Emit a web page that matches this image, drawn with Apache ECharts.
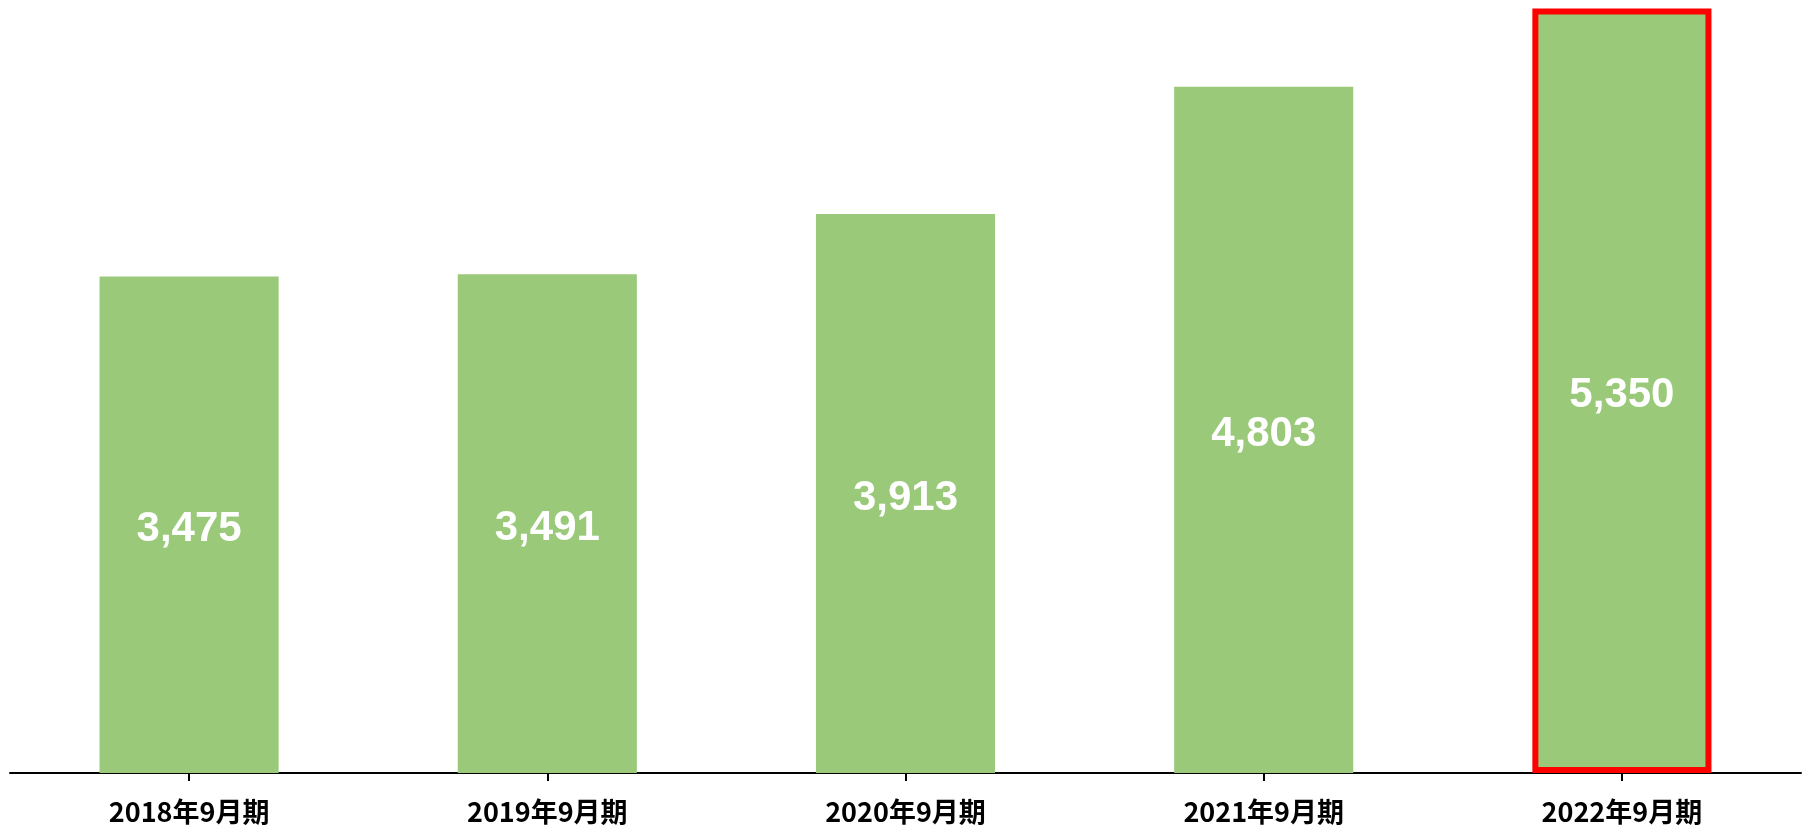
<!DOCTYPE html>
<html>
<head>
<meta charset="utf-8">
<script src="https://cdn.jsdelivr.net/npm/echarts@6/dist/echarts.min.js"></script>
<style>
  html, body { margin: 0; padding: 0; background: #fff; }
  #chart { width: 1806px; height: 826px; }
</style>
</head>
<body>
<div id="chart"></div>
<script>
const categories = ['2018年9月期', '2019年9月期', '2020年9月期', '2021年9月期', '2022年9月期'];
const values = [3475, 3491, 3913, 4803, 5350];
const highlightIndex = 4;

const chart = echarts.init(document.getElementById('chart'));

const barData = values.map(function (v, i) {
  if (i === highlightIndex) {
    return { value: v, itemStyle: { borderColor: '#ff0000', borderWidth: 6 } };
  }
  return v;
});

const option = {
  animation: false,
  grid: { left: 10, right: 5, top: 0, bottom: 53 },
  xAxis: {
    type: 'category',
    data: categories,
    axisLine: { show: true, lineStyle: { color: '#000', width: 2 } },
    axisTick: { show: true, alignWithLabel: true, inside: false, length: 8, lineStyle: { color: '#000', width: 2 } },
    axisLabel: {
      margin: 25,
      color: '#000',
      fontSize: 27,
      fontWeight: 'bold',
      fontFamily: '"Liberation Sans Narrow", "Noto Sans CJK JP", sans-serif'
    }
  },
  yAxis: {
    type: 'value',
    min: 0,
    max: 5410,
    show: false,
    splitLine: { show: false }
  },
  series: [{
    type: 'bar',
    data: barData,
    barWidth: '50%',
    itemStyle: { color: '#99c979' },
    label: {
      show: true,
      position: 'inside',
      offset: [0, 5],
      color: '#fff',
      fontSize: 42,
      fontWeight: 'bold',
      fontFamily: '"Liberation Sans", Arial, sans-serif',
      formatter: function (p) { return p.value.toLocaleString('en-US'); }
    }
  }]
};

chart.setOption(option);
</script>
</body>
</html>
